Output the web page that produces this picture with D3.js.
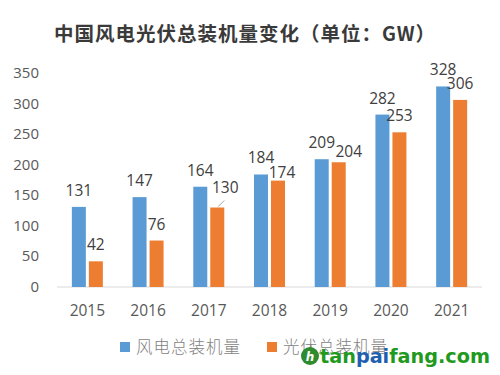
<!DOCTYPE html>
<html>
<head>
<meta charset="utf-8">
<script src="https://cdn.jsdelivr.net/npm/d3@7"></script>
<style>
  body { margin: 0; background: #fff; }
  svg { display: block; }
</style>
</head>
<body>
<svg id="chart" width="500" height="375"></svg>
<script>
const years = ["2015", "2016", "2017", "2018", "2019", "2020", "2021"];
const wind = [131, 147, 164, 184, 209, 282, 328];
const solar = [42, 76, 130, 174, 204, 253, 306];
const yTicks = [0, 50, 100, 150, 200, 250, 300, 350];
const seriesNames = ["风电总装机量", "光伏总装机量"];

// label nudges (layout only), [dx, dy] per bar
const windNudge = [0, 0, 0, 0, 0, 0, 0];
const solarNudge = [[0, 0], [0, 0], [8, -4], [4, 8], [10, 6], [0, 0], [0, 0]];

const colors = ["#5B9BD5", "#ED7D31"];
const svg = d3.select("#chart");
const W = 500, H = 375;

svg.append("rect").attr("width", W).attr("height", H).attr("fill", "#fff");

const x = d3.scaleBand(years, [57, 482]);
const y = d3.scaleLinear([0, 350], [287, 73]);
const barW = 14, gap = 3;

// title
svg.append("text")
  .attr("x", 245).attr("y", 41)
  .attr("text-anchor", "middle")
  .attr("font-family", "Noto Sans CJK SC")
  .attr("font-weight", "bold")
  .attr("font-size", 19.5)
  .attr("letter-spacing", 1)
  .attr("fill", "#3a3a3a")
  .text("中国风电光伏总装机量变化（单位：GW）");

// y axis labels
svg.append("g").selectAll("text").data(yTicks).join("text")
  .attr("x", 39).attr("y", d => y(d) + 5)
  .attr("text-anchor", "end")
  .attr("font-family", "Open Sans")
  .attr("font-size", 15)
  .attr("fill", "#595959")
  .text(d => d);

// baseline
svg.append("line")
  .attr("x1", 57).attr("x2", 482)
  .attr("y1", y(0)).attr("y2", y(0))
  .attr("stroke", "#d9d9d9").attr("stroke-width", 1);

// x labels
svg.append("g").selectAll("text").data(years).join("text")
  .attr("x", d => x(d) + x.bandwidth() / 2)
  .attr("y", 316)
  .attr("text-anchor", "middle")
  .attr("font-family", "Open Sans")
  .attr("font-size", 15.5)
  .attr("fill", "#595959")
  .text(d => d);

const cx = d => x(d) + x.bandwidth() / 2;

// bars
svg.append("g").selectAll("rect").data(years).join("rect")
  .attr("x", d => cx(d) - gap / 2 - barW)
  .attr("y", (d, i) => y(wind[i]))
  .attr("width", barW)
  .attr("height", (d, i) => y(0) - y(wind[i]))
  .attr("fill", colors[0]);

svg.append("g").selectAll("rect").data(years).join("rect")
  .attr("x", d => cx(d) + gap / 2)
  .attr("y", (d, i) => y(solar[i]))
  .attr("width", barW)
  .attr("height", (d, i) => y(0) - y(solar[i]))
  .attr("fill", colors[1]);

// data labels
const labelFont = g => g
  .attr("text-anchor", "middle")
  .attr("font-family", "Open Sans")
  .attr("font-size", 15.5)
  .attr("fill", "#404040");

svg.append("g").selectAll("text").data(years).join("text")
  .call(labelFont)
  .attr("x", (d, i) => cx(d) - gap / 2 - barW / 2 + windNudge[i])
  .attr("y", (d, i) => y(wind[i]) - 11)
  .text((d, i) => wind[i]);

svg.append("g").selectAll("text").data(years).join("text")
  .call(labelFont)
  .attr("x", (d, i) => cx(d) + gap / 2 + barW / 2 + solarNudge[i][0])
  .attr("y", (d, i) => y(solar[i]) - 11 + solarNudge[i][1])
  .text((d, i) => solar[i]);

// leader line for 2017 solar label
svg.append("line")
  .attr("x1", cx("2017") + gap / 2 + barW / 2 + 1).attr("y1", y(solar[2]) - 1)
  .attr("x2", cx("2017") + gap / 2 + barW / 2 + 7).attr("y2", y(solar[2]) - 7)
  .attr("stroke", "#a6a6a6").attr("stroke-width", 1);

// legend
const legend = svg.append("g");
const legendX = [120, 267];
seriesNames.forEach((name, i) => {
  legend.append("rect")
    .attr("x", legendX[i]).attr("y", 342)
    .attr("width", 10).attr("height", 10)
    .attr("fill", colors[i]);
  legend.append("text")
    .attr("x", legendX[i] + 16).attr("y", 353)
    .attr("font-family", "Noto Sans CJK SC")
    .attr("font-weight", 300)
    .attr("font-size", 16.5)
    .attr("letter-spacing", 1)
    .attr("fill", "#7f7f7f")
    .text(name);
});

// watermark
const wm = svg.append("g");
wm.append("circle").attr("cx", 310).attr("cy", 356).attr("r", 9).attr("fill", "#2e8b2e");
wm.append("text").attr("x", 310).attr("y", 361)
  .attr("text-anchor", "middle")
  .attr("font-family", "DejaVu Sans").attr("font-weight", "bold").attr("font-style", "italic")
  .attr("font-size", 12).attr("fill", "#fff").text("h");
const wmText = wm.append("text")
  .attr("x", 320).attr("y", 363)
  .attr("font-family", "DejaVu Sans")
  .attr("font-weight", "bold")
  .attr("font-size", 19)
  .attr("textLength", 170)
  .attr("lengthAdjust", "spacingAndGlyphs");
wmText.append("tspan").attr("fill", "#1f9a1f").text("tan");
wmText.append("tspan").attr("fill", "#1f5fb0").text("pai");
wmText.append("tspan").attr("fill", "#1f9a1f").text("fang.com");
</script>
</body>
</html>
